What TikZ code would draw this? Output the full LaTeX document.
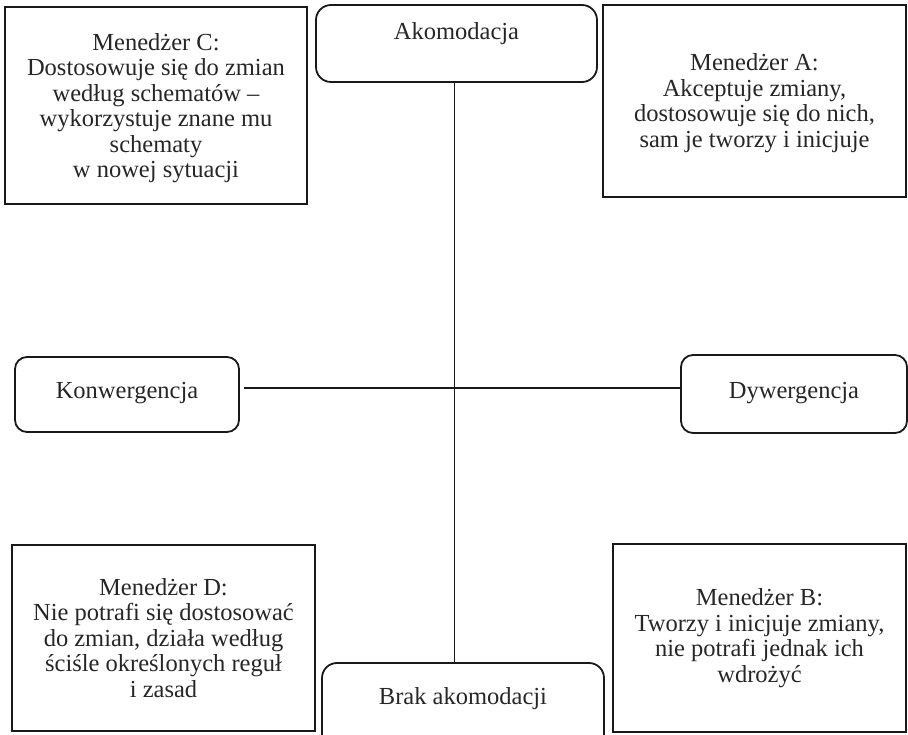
\documentclass[tikz,border=0pt]{standalone}
\usepackage{fontspec}
\setmainfont{Liberation Serif}
\begin{document}
\begin{tikzpicture}[x=1pt,y=-1pt,
  ln/.style={line width=1.8pt, draw=black!90},
  sqbox/.style={ln, rectangle, inner sep=0pt, align=center, text=black!85, font=\fontsize{24.5}{25.5}\selectfont},
  rbox/.style={ln, rectangle, rounded corners=12pt, inner sep=0pt},
  lbl/.style={text=black!85, font=\fontsize{24.5}{25.5}\selectfont, inner sep=0pt}]
\useasboundingbox (0,0) rectangle (908,735);
\clip (0,0) rectangle (908,735);
% square boxes
\node[sqbox, minimum width=302pt, minimum height=197pt] (mc) at (156,105.5) {};
\node[lbl, align=center] (mct) at (156,108)
  {Menedżer C:\\Dostosowuje się do zmian\\według schematów –\\wykorzystuje znane mu\\schematy\\w nowej sytuacji};
\node[sqbox, minimum width=303pt, minimum height=192pt] (ma) at (754.5,101) {};
\node[lbl, align=center] (mat) at (754.5,103)
  {Menedżer A:\\Akceptuje zmiany,\\dostosowuje się do nich,\\sam je tworzy i inicjuje};
\node[sqbox, minimum width=303pt, minimum height=186pt] (md) at (163.5,638)
  {Menedżer D:\\Nie potrafi się dostosować\\do zmian, działa według\\ściśle określonych reguł\\i zasad};
\node[sqbox, minimum width=293pt, minimum height=188pt] (mb) at (759.5,638)
  {Menedżer B:\\Tworzy i inicjuje zmiany,\\nie potrafi jednak ich\\wdrożyć};
% rounded boxes
\node[rbox, rounded corners=15pt, minimum width=281pt, minimum height=77pt] (ako) at (456.5,43.5) {};
\node[lbl] (akot) at (456.5,34) {Akomodacja};
\node[rbox, minimum width=224pt, minimum height=75pt] (konw) at (127,394.5) {};
\node[lbl] (konwt) at (127,393) {Konwergencja};
\node[rbox, minimum width=226pt, minimum height=78pt] (dyw) at (794,394) {};
\node[lbl] (dywt) at (794,393) {Dywergencja};
\node[rbox, rounded corners=15pt, minimum width=282pt, minimum height=90pt] (brak) at (463,708) {};
\node[lbl] (brakt) at (463,699) {Brak akomodacji};
% axes
\coordinate (cross) at (454.5,388);
\draw[ln] (ako.south -| cross) -- (brak.north -| cross);
\draw[ln] ([xshift=4pt]konw.east |- cross) -- (dyw.west |- cross);
\end{tikzpicture}
\end{document}
